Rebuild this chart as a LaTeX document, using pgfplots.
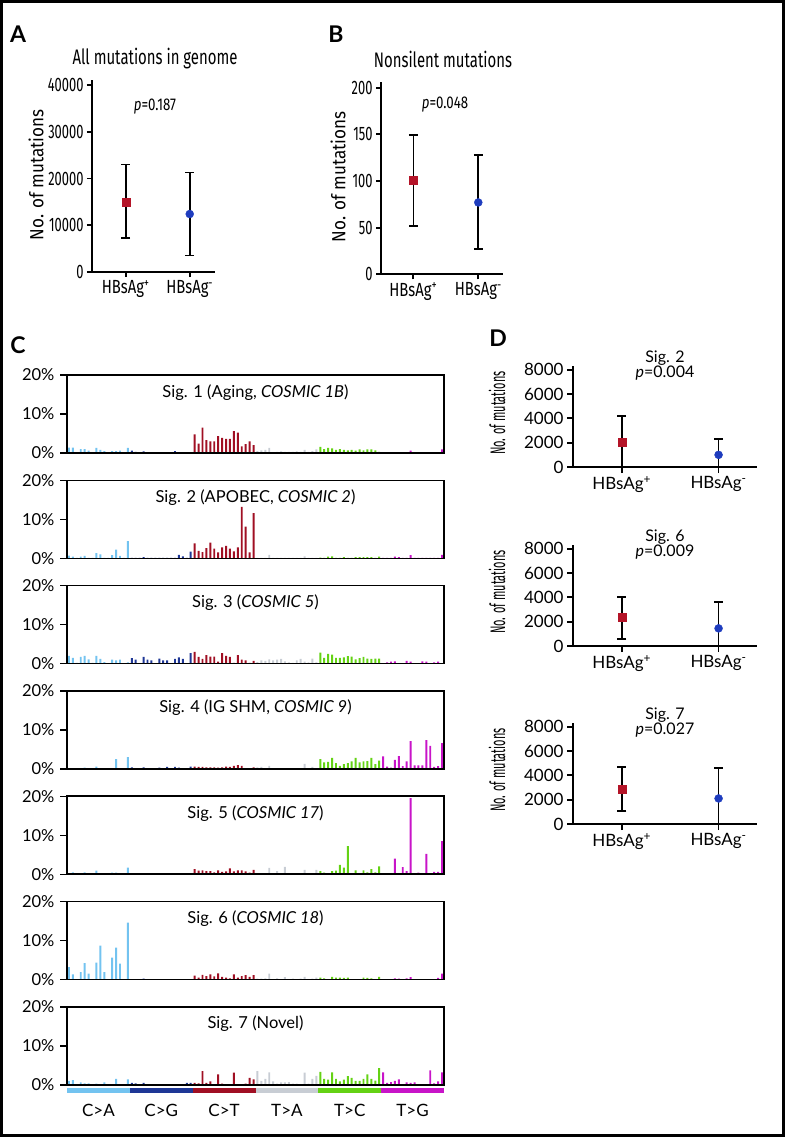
\documentclass[border=0pt]{standalone}
\usepackage{fontspec}
\setmainfont{Lato}
\newfontfamily\condT[FakeStretch=0.71]{Fira Sans}
\newfontfamily\condfont[FakeStretch=0.78]{Fira Sans}
\newfontfamily\condN[FakeStretch=0.66]{Fira Sans}
\newfontfamily\condL[FakeStretch=0.9]{Fira Sans}
\newfontfamily\dcond[FakeStretch=0.52]{Fira Sans}
\usepackage{pgfplots}
\pgfplotsset{compat=1.18}
\usepackage{pgfplotstable}
\newcommand\fs[1]{\fontsize{#1}{#1}\selectfont}
\definecolor{mred}{RGB}{180,20,40}
\definecolor{mblue}{RGB}{30,60,190}
\definecolor{cCA}{RGB}{115,195,240}
\definecolor{cCG}{RGB}{30,55,150}
\definecolor{cCT}{RGB}{160,15,35}
\definecolor{cTA}{RGB}{200,205,212}
\definecolor{cTC}{RGB}{100,210,20}
\definecolor{cTG}{RGB}{200,20,200}

\pgfplotstableread{
x s1 s2 s3 s4 s5 s6 s7
0 1.4 0.7 2.0 0.1 0.1 3.2 1.0
1 1.4 0.4 1.5 0.1 0.5 1.3 1.2
2 0.1 0.1 0.2 0.1 0.1 0.1 0.1
3 1.0 0.4 1.7 0.1 0.1 1.9 0.6
4 1.0 0.6 2.0 0.3 0.5 4.2 0.4
5 0.6 0.1 1.1 0.1 0.3 1.5 0.4
6 0.1 0.1 0.2 0.1 0.1 0.1 0.1
7 1.3 1.3 2.0 0.6 0.9 4.3 0.3
8 0.8 1.0 1.2 0.1 0.1 8.7 0.1
9 0.5 0.1 0.4 0.1 0.1 1.9 0.6
10 0.1 0.1 0.1 0.1 0.1 0.1 0.1
11 0.5 0.8 1.0 0.1 0.4 5.6 0.1
12 0.5 2.2 0.8 2.5 0.4 8.2 1.5
13 0.6 0.6 1.0 0.1 0.1 4.1 0.1
14 0.1 0.1 0.1 0.1 0.1 0.1 0.1
15 1.3 4.4 0.3 3.0 1.7 14.6 1.4
16 0.6 0.1 1.4 0.4 0.1 0.1 0.5
17 0.3 0.1 1.0 0.2 0.1 0.1 0.4
18 0.1 0.1 0.1 0.1 0.1 0.1 0.1
19 0.4 0.3 1.7 0.4 0.1 0.2 0.5
20 0.1 0.1 1.0 0.2 0.1 0.1 0.1
21 0.1 0.1 0.8 0.2 0.1 0.1 0.1
22 0.1 0.1 0.1 0.1 0.1 0.1 0.1
23 0.2 0.1 1.3 0.3 0.1 0.1 0.1
24 0.1 0.1 0.8 0.1 0.1 0.1 0.1
25 0.1 0.1 0.8 0.5 0.1 0.1 0.1
26 0.1 0.1 0.1 0.2 0.1 0.1 0.1
27 0.5 0.1 1.2 0.5 0.1 0.1 0.1
28 0.1 0.9 1.6 0.3 0.1 0.1 0.1
29 0.1 0.5 1.2 0.2 0.1 0.1 0.1
30 0.1 0.1 0.1 0.1 0.1 0.1 0.5
31 0.1 1.7 2.7 0.6 0.2 0.1 0.5
32 4.8 3.8 3.0 0.6 1.3 1.0 0.5
33 2.4 1.9 1.7 0.5 0.9 0.5 0.4
34 6.5 1.6 1.2 0.5 1.0 1.2 3.5
35 3.3 2.6 2.2 0.4 0.8 0.9 0.5
36 3.0 4.0 1.8 0.4 0.8 1.3 0.9
37 3.0 2.5 1.8 0.4 0.5 0.8 0.2
38 4.3 1.5 0.5 0.3 1.0 1.6 2.7
39 3.9 2.8 2.7 0.4 0.6 0.7 0.3
40 3.6 3.2 2.0 0.6 0.7 0.5 0.1
41 3.6 2.5 1.7 0.5 1.5 0.3 0.1
42 5.6 1.8 0.2 0.8 0.7 1.3 3.1
43 5.2 2.8 2.2 1.0 1.0 0.5 0.1
44 1.7 13.2 1.0 0.8 1.0 0.9 0.2
45 2.3 8.1 0.8 0.1 0.7 1.1 0.3
46 3.0 1.5 0.2 0.1 0.4 0.7 1.8
47 2.0 11.6 0.7 0.4 1.1 1.1 1.4
48 0.5 0.1 0.4 0.4 0.3 0.2 3.5
49 0.7 0.1 0.8 0.5 0.3 0.2 1.0
50 0.8 0.1 0.7 0.2 0.1 0.3 1.5
51 1.3 0.9 1.1 0.8 1.6 1.5 3.2
52 0.2 0.1 0.8 0.1 0.1 0.1 0.9
53 0.3 0.1 1.0 0.1 0.8 0.3 0.3
54 0.4 0.1 1.2 0.1 0.1 0.1 0.6
55 0.3 0.1 0.6 0.1 1.9 0.6 0.6
56 0.3 0.1 0.3 0.1 0.1 0.1 0.7
57 0.3 0.1 0.2 0.1 0.3 0.2 0.3
58 0.4 0.1 0.8 0.1 0.1 0.1 0.3
59 0.3 0.1 1.2 0.1 0.3 0.2 0.1
60 0.8 0.5 0.5 1.3 1.1 0.7 3.1
61 0.3 0.1 0.3 0.2 0.1 0.1 0.3
62 0.5 0.1 1.3 0.5 0.2 0.2 1.5
63 0.9 0.1 0.3 0.1 1.1 0.5 2.3
64 1.6 0.2 2.8 2.5 0.8 0.5 3.3
65 1.0 0.1 1.5 1.7 0.4 0.3 1.5
66 1.3 0.4 2.5 1.8 0.1 0.1 1.3
67 1.2 0.5 2.3 2.8 0.8 0.7 3.2
68 0.8 0.1 1.5 1.5 0.9 0.5 1.5
69 1.0 0.1 1.5 0.8 2.4 0.5 0.9
70 0.8 0.3 1.6 1.2 1.7 0.4 1.3
71 0.7 0.1 1.9 1.5 7.2 0.5 2.2
72 0.8 0.1 1.8 1.9 0.1 0.1 1.8
73 0.6 0.3 1.1 2.8 1.0 0.1 1.0
74 0.9 0.3 1.4 1.7 0.1 0.1 1.0
75 0.7 0.3 1.7 1.9 1.0 0.5 1.5
76 0.9 0.3 1.3 2.0 0.5 0.4 2.7
77 0.9 0.3 1.2 2.8 1.3 0.3 1.5
78 0.7 0.1 1.3 1.2 0.5 0.1 1.1
79 0.3 0.4 1.3 2.1 2.0 0.7 4.3
80 0.1 0.1 0.1 3.2 0.1 0.1 3.2
81 0.1 0.1 0.3 0.6 0.2 0.1 0.5
82 0.1 0.1 0.5 0.3 0.1 0.1 0.7
83 0.1 0.4 0.6 2.3 4.0 0.3 1.0
84 0.1 0.3 0.1 3.3 0.2 0.2 1.4
85 0.1 0.1 0.1 0.7 1.8 0.1 0.1
86 0.1 0.1 0.7 1.9 0.8 0.3 0.6
87 0.6 0.8 0.5 7.1 19.5 0.6 0.5
88 0.1 0.1 0.1 0.9 0.1 0.1 0.6
89 0.1 0.1 0.1 0.9 0.4 0.1 0.1
90 0.1 0.1 0.6 0.9 0.1 0.1 0.1
91 0.1 0.1 0.5 7.4 5.2 0.1 0.2
92 0.1 0.1 0.1 5.9 0.1 0.1 3.7
93 0.1 0.1 0.3 0.5 0.6 0.1 0.4
94 0.2 0.1 0.5 0.7 0.6 0.4 0.9
95 0.9 0.9 0.1 6.6 8.5 1.5 3.2
}\sigdata

\newcommand\onebar[3]{\addplot[ybar,bar shift=0pt,bar width=0.5,fill=#1,draw=none,restrict x to domain=#2] table[x=x,y=#3]{\sigdata};}
\newcommand\sigbars[1]{%
\onebar{cCA}{-1:15.5}{#1}
\onebar{cCG}{15.5:31.5}{#1}
\onebar{cCT}{31.5:47.5}{#1}
\onebar{cTA}{47.5:63.5}{#1}
\onebar{cTC}{63.5:79.5}{#1}
\onebar{cTG}{79.5:96}{#1}}

\pgfplotsset{
 sigax/.style={scale only axis, width=377pt, height=78pt, anchor=north west,
  xmin=-0.5, xmax=95.5, ymin=0, ymax=20, xtick=\empty,
  ytick={0,10,20}, yticklabels={0\%,10\%,20\%}, ytick pos=left,
  tick align=outside, major tick length=7pt,
  axis line style={line width=1.6pt},
  every tick/.style={black,line width=1.4pt},
  yticklabel style={font=\fs{16.5},xshift=-2pt},
  axis on top},
 dotax/.style={scale only axis, axis lines=left, axis line style={-,line width=2.3pt},
  tick align=outside, every tick/.style={black,line width=1.8pt},
  scaled y ticks=false,
  xtick={1,2}, xticklabels={HBsAg\textsuperscript{+},HBsAg\textsuperscript{-}},
  anchor=south west, clip=false},
 abax/.style={dotax, major tick length=5pt,
  yticklabel style={font=\condN\fs{19.5}},
  xticklabel style={font=\condfont\fs{19}},
  ylabel={No. of mutations}},
 dax/.style={dotax, width=184pt, height=101pt,
  xmin=0.496, xmax=2.397, ymin=0, ymax=8300,
  ytick={0,2000,4000,6000,8000}, yticklabels={0,2000,4000,6000,8000},
  major tick length=6pt, ticklabel style={font=\fs{17}},
  every axis y label/.style={at={(axis description cs:-0.413,0.535)},rotate=90,anchor=center,font=\dcond\fs{21}},
  ylabel={No. of mutations}},
 eb/.style={only marks, mark size=4pt, error bars/y dir=both, error bars/y explicit,
  error bars/error bar style={line width=1.6pt,black},
  error bars/error mark options={black,rotate=90,mark size=4.5pt,line width=1.6pt}},
}

\begin{document}
\begin{tikzpicture}
\draw[line width=3pt] (1.5pt,-1.5pt) rectangle (783.5pt,-1135.5pt);

% Panel letters
\node[font=\bfseries\fs{23}] at (18pt,-34pt) {A};
\node[font=\bfseries\fs{23}] at (336pt,-34pt) {B};
\node[font=\bfseries\fs{23}] at (18pt,-345pt) {C};
\node[font=\bfseries\fs{23}] at (498pt,-338pt) {D};

% Panel A
\node[font=\condT\fs{21}] at (155pt,-59pt) {All mutations in genome};
\node[font=\condfont\fs{17}] at (155pt,-107pt) {\textit{p}=0.187};
\begin{axis}[abax, at={(92pt,-272pt)}, width=123pt, height=192pt,
  xmin=0.473, xmax=2.395, ymin=0, ymax=41070,
  ytick={0,10000,20000,30000,40000}, yticklabels={0,10000,20000,30000,40000},
  every axis y label/.style={at={(axis description cs:-0.455,0.505)},rotate=90,anchor=center,font=\condL\fs{19}}]
\addplot[eb, mark=square*, color=mred] coordinates {(1,15000) += (0,8000) -= (0,7700)};
\addplot[eb, mark=*, color=mblue] coordinates {(2,12400) += (0,8850) -= (0,8900)};
\end{axis}

% Panel B
\node[font=\condT\fs{21}] at (443pt,-59pt) {Nonsilent mutations};
\node[font=\condfont\fs{17}] at (445pt,-105pt) {\textit{p}=0.048};
\begin{axis}[abax, at={(381pt,-274.3pt)}, width=122.3pt, height=192.6pt,
  xmin=0.503, xmax=2.385, ymin=0, ymax=206.4,
  ytick={0,50,100,150,200}, yticklabels={0,50,100,150,200},
  every axis y label/.style={at={(axis description cs:-0.352,0.505)},rotate=90,anchor=center,font=\condL\fs{19}}]
\addplot[eb, mark=square*, color=mred] coordinates {(1,101) += (0,48) -= (0,49)};
\addplot[eb, mark=*, color=mblue] coordinates {(2,77) += (0,51) -= (0,50)};
\end{axis}

% Panel C
\begin{axis}[sigax, at={(67pt,-375pt)}]
\sigbars{s1}
\node[font=\fs{16.5}] at (rel axis cs:0.5,0.78) {Sig. 1 (Aging, \textit{COSMIC 1B})};
\end{axis}
\begin{axis}[sigax, at={(67pt,-480.3pt)}]
\sigbars{s2}
\node[font=\fs{16.5}] at (rel axis cs:0.5,0.78) {Sig. 2 (APOBEC, \textit{COSMIC 2})};
\end{axis}
\begin{axis}[sigax, at={(67pt,-585.6pt)}]
\sigbars{s3}
\node[font=\fs{16.5}] at (rel axis cs:0.5,0.78) {Sig. 3 (\textit{COSMIC 5})};
\end{axis}
\begin{axis}[sigax, at={(67pt,-690.9pt)}]
\sigbars{s4}
\node[font=\fs{16.5}] at (rel axis cs:0.5,0.78) {Sig. 4 (IG SHM, \textit{COSMIC 9})};
\end{axis}
\begin{axis}[sigax, at={(67pt,-796.2pt)}]
\sigbars{s5}
\node[font=\fs{16.5}] at (rel axis cs:0.5,0.78) {Sig. 5 (\textit{COSMIC 17})};
\end{axis}
\begin{axis}[sigax, at={(67pt,-901.5pt)}]
\sigbars{s6}
\node[font=\fs{16.5}] at (rel axis cs:0.5,0.78) {Sig. 6 (\textit{COSMIC 18})};
\end{axis}
\begin{axis}[sigax, at={(67pt,-1006.8pt)}]
\sigbars{s7}
\node[font=\fs{16.5}] at (rel axis cs:0.5,0.78) {Sig. 7 (Novel)};
\end{axis}
% mutation type strip
\foreach \c/\lab [count=\k from 0] in {cCA/C>A,cCG/C>G,cCT/C>T,cTA/T>A,cTC/T>C,cTG/T>G}{
  \fill[\c] ({67pt+\k*62.833pt},-1088pt) rectangle ({67pt+(\k+1)*62.833pt},-1093pt);
  \node[font=\fs{17}] at ({67pt+(\k+0.5)*62.833pt},-1110pt) {\lab};
}

% Panel D
\foreach \yb/\ti/\pv in {467/2/0.004, 646/6/0.009, 824/7/0.027}{
  \node[font=\fs{16}] at (665pt,{-(\yb-109)*1pt}) {Sig. \ti};
  \node[font=\fs{16}] at (665pt,{-(\yb-94)*1pt}) {\textit{p}=\pv};
}
\begin{axis}[dax, at={(573pt,-467pt)}]
\addplot[eb, mark=square*, color=mred] coordinates {(1,2000) += (0,2200) -= (0,2000)};
\addplot[eb, mark=*, color=mblue] coordinates {(2,1000) += (0,1300) -= (0,1000)};
\end{axis}
\begin{axis}[dax, at={(573pt,-646pt)}]
\addplot[eb, mark=square*, color=mred] coordinates {(1,2350) += (0,1700) -= (0,1770)};
\addplot[eb, mark=*, color=mblue] coordinates {(2,1450) += (0,2150) -= (0,1450)};
\end{axis}
\begin{axis}[dax, at={(573pt,-824pt)}]
\addplot[eb, mark=square*, color=mred] coordinates {(1,2870) += (0,1800) -= (0,1810)};
\addplot[eb, mark=*, color=mblue] coordinates {(2,2100) += (0,2520) -= (0,2100)};
\end{axis}
\end{tikzpicture}
\end{document}
